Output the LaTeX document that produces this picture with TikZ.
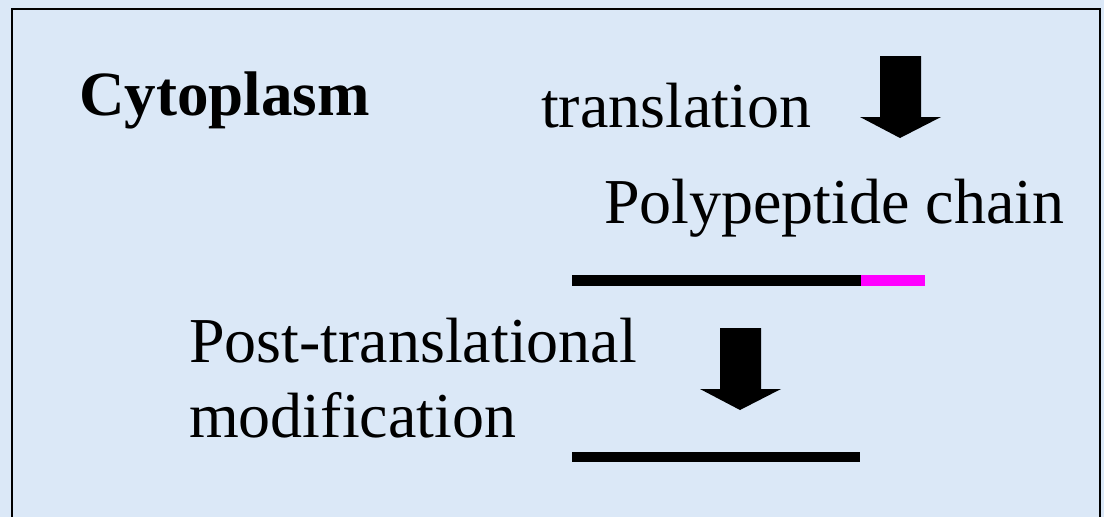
\documentclass[tikz,border=0pt]{standalone}
\usepackage{fontspec}
\setmainfont{Liberation Serif}
\definecolor{bgblue}{RGB}{219,232,247}
\definecolor{magbar}{RGB}{255,0,255}
\begin{document}
\begin{tikzpicture}[x=1pt,y=-1pt,
  lbl/.style={anchor=base west,inner sep=0pt,font=\fontsize{64}{75}\selectfont},
  blockarrow/.style={fill=black,draw=none},
  bar/.style={fill=black,draw=none}]
\useasboundingbox (0,0) rectangle (1104,517);
\fill[bgblue] (0,0) rectangle (1104,517);
\draw[line width=2pt] (12,517) -- (12,9) -- (1100,9) -- (1100,517);
% labels
\node[lbl,font=\fontsize{63}{75}\selectfont\bfseries] (cyto) at (79,115) {Cytoplasm};
\node[lbl] (trans) at (541,127) {translation};
\node[lbl] (poly) at (604,223) {Polypeptide chain};
\node[lbl,align=left] (ptm) at (189,437) {Post-translational\\modification};
% arrows
\fill[blockarrow] (880,56) -- (921,56) -- (921,117) -- (941,117) -- (900,138) -- (860,117) -- (880,117) -- cycle;
\fill[blockarrow] (720,328) -- (761,328) -- (761,389) -- (781,389) -- (740,410) -- (700,389) -- (720,389) -- cycle;
% bars
\fill[bar] (572,275) rectangle (861,286);
\fill[magbar] (861,275) rectangle (925,286);
\fill[bar] (572,452) rectangle (860,462);
\end{tikzpicture}
\end{document}
